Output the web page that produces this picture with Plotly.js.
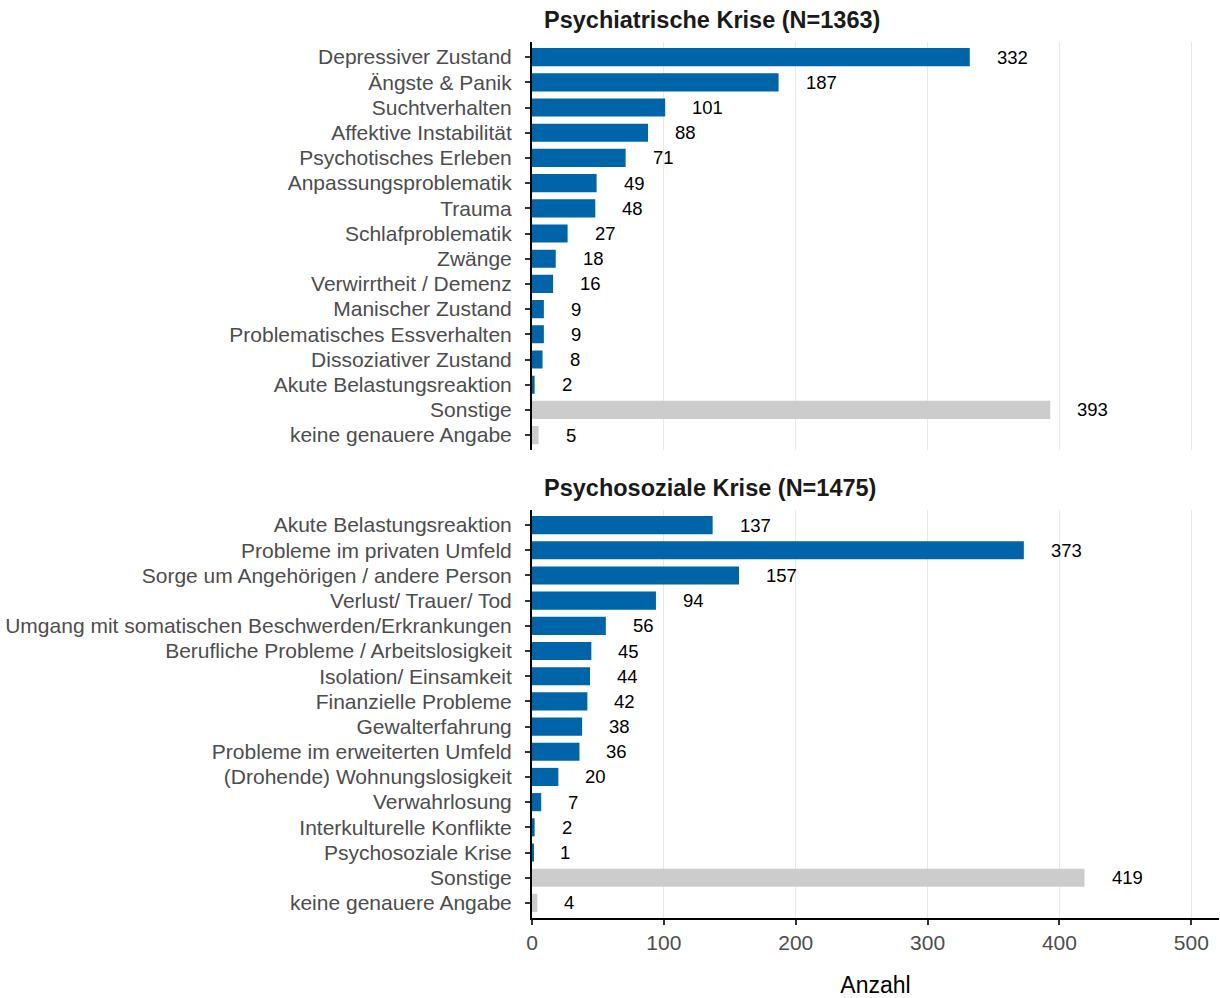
<!DOCTYPE html>
<html>
<head>
<meta charset="utf-8">
<script src="https://cdn.plot.ly/plotly-3.0.1.min.js"></script>
<style>html,body{margin:0;padding:0;background:#fff;}#chart{width:1220px;height:998px;}</style>
</head>
<body>
<div id="chart"></div>
<script>
// ---- data ----
const topTitle = "Psychiatrische Krise (N=1363)";
const topCategories = ["Depressiver Zustand","Ängste & Panik","Suchtverhalten","Affektive Instabilität","Psychotisches Erleben","Anpassungsproblematik","Trauma","Schlafproblematik","Zwänge","Verwirrtheit / Demenz","Manischer Zustand","Problematisches Essverhalten","Dissoziativer Zustand","Akute Belastungsreaktion","Sonstige","keine genauere Angabe"];
const topValues = [332,187,101,88,71,49,48,27,18,16,9,9,8,2,393,5];

const bottomTitle = "Psychosoziale Krise (N=1475)";
const bottomCategories = ["Akute Belastungsreaktion","Probleme im privaten Umfeld","Sorge um Angehörigen / andere Person","Verlust/ Trauer/ Tod","Umgang mit somatischen Beschwerden/Erkrankungen","Berufliche Probleme / Arbeitslosigkeit","Isolation/ Einsamkeit","Finanzielle Probleme","Gewalterfahrung","Probleme im erweiterten Umfeld","(Drohende) Wohnungslosigkeit","Verwahrlosung","Interkulturelle Konflikte","Psychosoziale Krise","Sonstige","keine genauere Angabe"];
const bottomValues = [137,373,157,94,56,45,44,42,38,36,20,7,2,1,419,4];

const xTickValues = [0,100,200,300,400,500];
const xTitle = "Anzahl";
const greyCategories = ["Sonstige","keine genauere Angabe"];

// ---- styles ----
const BLUE = "#0064A8", GREY = "#CCCCCC";
const FONT = "Liberation Sans, Arial, Helvetica, sans-serif";
const colorsFor = cats => cats.map(c => greyCategories.includes(c) ? GREY : BLUE);

const traces = [
  {type:"bar", orientation:"h", x: topValues, y: topCategories, xaxis:"x2", yaxis:"y2",
   marker:{color: colorsFor(topCategories)}, hoverinfo:"x+y", showlegend:false},
  {type:"bar", orientation:"h", x: bottomValues, y: bottomCategories, xaxis:"x", yaxis:"y",
   marker:{color: colorsFor(bottomCategories)}, hoverinfo:"x+y", showlegend:false}
];

const labelAnn = (vals, cats, xr, yr) => vals.map((v,i) => ({
  x: v, y: cats[i], xref: xr, yref: yr, text: String(v), showarrow:false,
  xanchor:"left", yanchor:"middle", xshift: 25,
  font:{family:FONT, size:18.5, color:"#000000"}
}));

const annotations = [
  ...labelAnn(topValues, topCategories, "x2", "y2"),
  ...labelAnn(bottomValues, bottomCategories, "x", "y"),
  {text:"<b>"+topTitle+"</b>", xref:"paper", yref:"paper", x:0.0145, y:1, xanchor:"left", yanchor:"bottom",
   yshift:7, showarrow:false, font:{family:FONT, size:23.5, color:"#1a1a1a"}},
  {text:"<b>"+bottomTitle+"</b>", xref:"paper", yref:"paper", x:0.0145, y:0.4658, xanchor:"left", yanchor:"bottom",
   yshift:7, showarrow:false, font:{family:FONT, size:23.5, color:"#1a1a1a"}}
];

const yCommon = {
  type:"category", autorange:false, range:[15.6,-0.6],
  showline:true, linecolor:"#000000", linewidth:2,
  ticks:"outside", ticklen:5, tickwidth:1.5, tickcolor:"#333333",
  tickfont:{family:FONT, size:21, color:"#4D4D4D"}, ticklabelstandoff:9,
  showgrid:false, zeroline:false
};
const xCommon = {
  range:[0,521], autorange:false, tickvals:xTickValues,
  showgrid:true, gridcolor:"#E8E8E8", gridwidth:1, zeroline:false
};

const layout = {
  width:1220, height:998,
  margin:{l:532, r:1, t:42, b:80},
  paper_bgcolor:"#ffffff", plot_bgcolor:"#ffffff",
  bargap:0.28,
  font:{family:FONT},
  xaxis: Object.assign({}, xCommon, {
    domain:[0,1], anchor:"y",
    showline:true, linecolor:"#000000", linewidth:2,
    ticks:"outside", ticklen:5, tickwidth:1.5, tickcolor:"#333333",
    tickfont:{family:FONT, size:21, color:"#4D4D4D"},
    title:{text:xTitle, font:{family:FONT, size:23, color:"#000000"}, standoff:30}
  }),
  xaxis2: Object.assign({}, xCommon, {
    domain:[0,1], anchor:"y2", showticklabels:false, showline:false, ticks:""
  }),
  yaxis: Object.assign({}, yCommon, {domain:[0,0.4658], anchor:"x"}),
  yaxis2: Object.assign({}, yCommon, {domain:[0.534,1], anchor:"x2"}),
  annotations: annotations,
  hovermode:"closest"
};

Plotly.newPlot("chart", traces, layout, {displayModeBar:false});
</script>
</body>
</html>
